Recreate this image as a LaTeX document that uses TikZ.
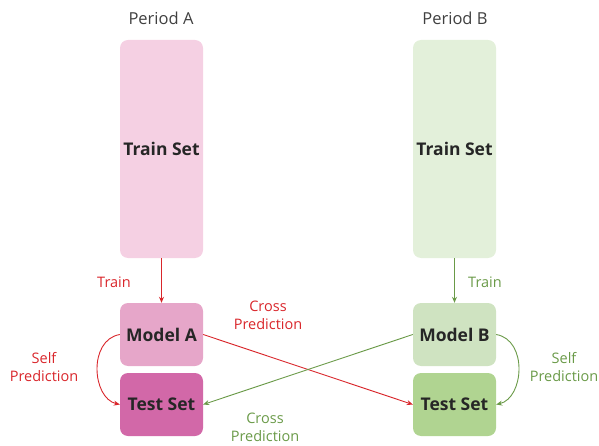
\documentclass[tikz,border=0pt]{standalone}
\usepackage{fontspec}
\setmainfont{Open Sans}
\usetikzlibrary{arrows.meta}
\definecolor{trainA}{HTML}{F5D0E3}
\definecolor{modelA}{HTML}{E6A6C9}
\definecolor{testA}{HTML}{D268A8}
\definecolor{trainB}{HTML}{E3F0DA}
\definecolor{modelB}{HTML}{CFE3C1}
\definecolor{testB}{HTML}{B0D491}
\definecolor{redline}{HTML}{D9262B}
\definecolor{greenline}{HTML}{6A9A48}
\tikzset{
  box/.style={rounded corners=8pt, minimum width=83pt, inner sep=0pt,
    font=\fontsize{17.5}{20}\selectfont\bfseries, text=black!85},
  lbl/.style={font=\fontsize{14.5}{18}\selectfont, align=center},
  period/.style={font=\fontsize{16.5}{19}\selectfont, text=black!75},
  link/.style={line width=0.9pt, -{Stealth[length=6pt,width=5pt]}},
}
\begin{document}
\begin{tikzpicture}[x=1pt,y=-1pt]
\useasboundingbox (0,0) rectangle (599,446);
% period headings
\node[period] (pa) at (161,18) {Period A};
\node[period] (pb) at (455,18) {Period B};
% period A boxes
\node[box, fill=trainA, minimum height=218pt] (trA) at (161.5,149) {Train Set};
\node[box, fill=modelA, minimum height=63pt] (mA) at (161.5,334.5) {Model A};
\node[box, fill=testA, minimum height=63pt] (tA) at (161.5,404.5) {Test Set};
% period B boxes
\node[box, fill=trainB, minimum height=218pt] (trB) at (454.5,149) {Train Set};
\node[box, fill=modelB, minimum height=63pt] (mB) at (454.5,334.5) {Model B};
\node[box, fill=testB, minimum height=63pt] (tB) at (454.5,404.5) {Test Set};
% training arrows
\draw[link, redline] (trA.south) -- (mA.north);
\draw[link, greenline] (trB.south) -- (mB.north);
\node[lbl, text=redline] (trainlA) at (114,282) {Train};
\node[lbl, text=greenline] (trainlB) at (485,282) {Train};
% self prediction
\draw[link, redline] (mA.west) .. controls (88,340) and (92,398) .. (tA.west);
\draw[link, greenline] (mB.east) .. controls (528,340) and (524,398) .. (tB.east);
\node[lbl, text=redline] (selfA) at (44,367) {Self\\Prediction};
\node[lbl, text=greenline] (selfB) at (564,367) {Self\\Prediction};
% cross prediction
\draw[link, redline] (mA.east) -- (tB.west);
\draw[link, greenline] (mB.west) -- (tA.east);
\node[lbl, text=redline] (crossA) at (268,315) {Cross\\Prediction};
\node[lbl, text=greenline] (crossB) at (265,427) {Cross\\Prediction};
\end{tikzpicture}
\end{document}
